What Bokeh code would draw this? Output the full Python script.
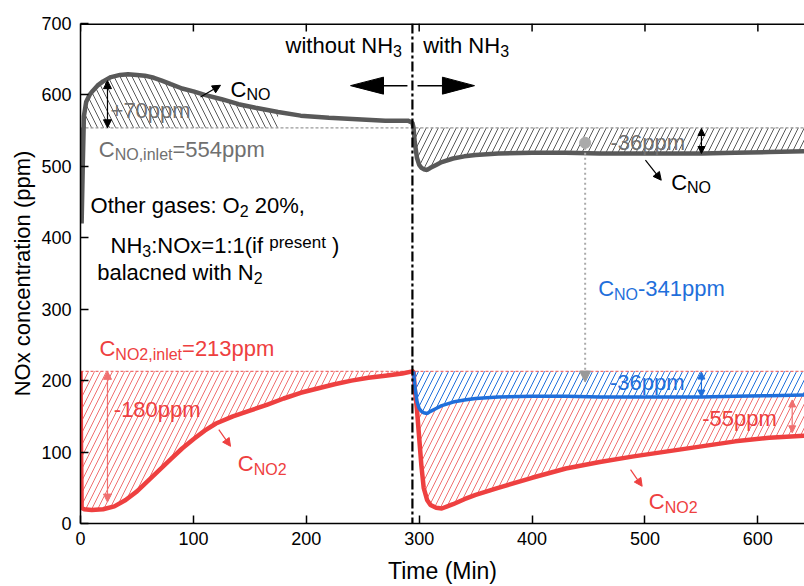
import numpy as np
from bokeh.plotting import figure
from bokeh.models import Range1d, FixedTicker, Span, Arrow, NormalHead
from bokeh.core.properties import value
from bokeh.embed import file_html
from bokeh.resources import INLINE

FONT = "Liberation Sans"

# ---------------- data ----------------
x_ticks = [0, 100, 200, 300, 400, 500, 600]
y_ticks = [0, 100, 200, 300, 400, 500, 600, 700]

no_inlet = 554      # ppm
no2_inlet = 213     # ppm
nh3_switch = 294    # min
no_shift = 341      # ppm (C_NO - 341)
gray_hatch_end = 175

# period 1 (without NH3)
t_no_1 = [0, 1, 2, 3, 5, 8, 11, 15, 20, 27, 35, 42, 50, 57, 65, 72, 80, 90, 100, 110,
          125, 140, 155, 175, 195, 220, 245, 270, 290, 294]
no_1 = [554, 420, 500, 570, 590, 600, 606, 613, 619, 625, 628, 629, 628, 627, 624, 620, 615, 609, 605, 600,
        594, 587, 582, 576, 571, 568, 566, 564, 564, 561]
t_no2_1 = [0, 0.5, 1, 3, 10, 20, 30, 40, 50, 60, 70, 80, 90, 100, 110, 120, 135, 150, 165, 180,
           195, 210, 225, 240, 255, 270, 285, 294]
no2_1 = [213, 100, 22, 20, 19, 20, 24, 33, 45, 60, 75, 90, 105, 118, 130, 140, 150, 158, 166, 175,
         183, 189, 195, 200, 204, 207, 210, 213]

# period 2 (with NH3)
t_2 = [295, 296, 298, 300, 302, 304, 307, 310, 315, 320, 330, 340, 350, 370, 400, 430, 460, 490,
       520, 550, 580, 610, 641]
no_2 = [554, 535, 512, 502, 498, 496, 495, 498, 502, 506, 511, 514, 516, 518, 519, 519, 518, 518,
        518, 518, 519, 520, 521]
no2_2 = [213, 190, 160, 120, 80, 50, 33, 26, 22, 21, 27, 34, 40, 50, 64, 77, 86, 94,
         101, 108, 115, 120, 123]

# ---------------- styles ----------------
GRAY = "#595959"
GRAY_T = "#707070"
RED = "#EE4040"
RED_L = "#F07070"
BLUE = "#1F6FDB"

XMAX = 641.3
p = figure(width=804, height=586, x_range=Range1d(0, XMAX), y_range=Range1d(0, 700),
           output_backend="svg", toolbar_location=None,
           min_border_left=80, min_border_right=0, min_border_top=23, min_border_bottom=62)
p.outline_line_color = None
p.xgrid.visible = False
p.ygrid.visible = False
p.background_fill_color = "white"

PX = 724.0 / XMAX
PY = 501.0 / 700.0
TEXT_UP = 7.0   # px

for ax in (p.xaxis[0], p.yaxis[0]):
    ax.major_tick_in = 8
    ax.major_tick_out = 0
    ax.minor_tick_line_color = None
    ax.major_label_text_font = FONT
    ax.major_label_text_font_size = "18px"
    ax.major_label_text_color = "black"
    ax.axis_label_text_font = FONT
    ax.axis_label_text_font_style = "normal"
    ax.axis_label_text_color = "black"
    ax.axis_line_width = 1.5
    ax.major_tick_line_width = 1.5
p.xaxis[0].ticker = FixedTicker(ticks=x_ticks)
p.yaxis[0].ticker = FixedTicker(ticks=y_ticks)
p.xaxis[0].axis_label = "Time (Min)"
p.yaxis[0].axis_label = "NOx concentration (ppm)"
p.xaxis[0].axis_label_text_font_size = "23px"
p.yaxis[0].axis_label_text_font_size = "22px"
p.xaxis[0].major_label_standoff = 8
p.xaxis[0].axis_label_standoff = 10
p.yaxis[0].major_label_standoff = 9
p.yaxis[0].axis_label_standoff = 3

# top frame line with inward ticks (no labels)
p.add_layout(Span(location=700, dimension="width", line_color="black", line_width=3))
p.segment(x0=x_ticks, y0=[700] * len(x_ticks), x1=x_ticks, y1=[700 - 8 / PY] * len(x_ticks),
          line_color="black", line_width=1.5)

# ---------------- hatched areas ----------------
t1 = np.array(t_no_1, dtype=float)
n1 = np.array(no_1, dtype=float)
m = t1 <= gray_hatch_end
p.varea(x=t1[m], y1=np.full(m.sum(), no_inlet), y2=np.maximum(n1[m], no_inlet),
        fill_color=None, hatch_pattern="\\", hatch_color=GRAY, hatch_weight=1, hatch_scale=12)

t21 = np.array(t_no2_1, dtype=float)
r1 = np.array(no2_1, dtype=float)
p.varea(x=t21, y1=r1, y2=np.full(len(t21), no2_inlet),
        fill_color=None, hatch_pattern="/", hatch_color=RED_L, hatch_weight=1, hatch_scale=12)

t2 = np.array(t_2, dtype=float)
n2 = np.array(no_2, dtype=float)
r2 = np.array(no2_2, dtype=float)
b2 = n2 - no_shift
p.varea(x=t2, y1=n2, y2=np.full(len(t2), no_inlet),
        fill_color=None, hatch_pattern="/", hatch_color=GRAY, hatch_weight=1, hatch_scale=12)
p.varea(x=t2, y1=b2, y2=np.full(len(t2), no2_inlet),
        fill_color=None, hatch_pattern="/", hatch_color=BLUE, hatch_weight=1, hatch_scale=12)
p.varea(x=t2, y1=r2, y2=b2,
        fill_color=None, hatch_pattern="/", hatch_color=RED_L, hatch_weight=1, hatch_scale=12)

# reference (inlet) lines
p.line([0, XMAX], [no_inlet, no_inlet], line_color="#9a9a9a", line_dash="3 2", line_width=1.2)
p.line([0, XMAX], [no2_inlet, no2_inlet], line_color=RED_L, line_dash="3 2", line_width=1.2)

# ---------------- curves ----------------
p.line(np.concatenate([t1, t2]), np.concatenate([n1, n2]), line_color=GRAY, line_width=4.5)
p.line(np.concatenate([t21, t2]), np.concatenate([r1, r2]), line_color=RED, line_width=4.5)
p.line(t2, b2, line_color=BLUE, line_width=3.5)

# switch line
p.add_layout(Span(location=nh3_switch, dimension="height", line_color="black",
                  line_width=2.2, line_dash="10 3 3 3"))

# ---------------- text helpers ----------------
W = {' ': 278, '%': 889, '(': 333, ')': 333, '+': 584, ',': 278, '-': 333, '.': 278, ':': 278,
     '=': 584, 'C': 722, 'H': 722, 'M': 833, 'N': 722, 'O': 778, 'T': 611, 'x': 500, 'a': 556,
     'b': 556, 'c': 500, 'd': 556, 'e': 556, 'g': 556, 'h': 556, 'i': 222, 'l': 222, 'm': 833,
     'n': 556, 'o': 556, 'p': 556, 'r': 333, 's': 500, 't': 278, 'u': 556, 'w': 722, 'f': 278}


def tw(s, fs):
    return sum(W.get(c, 556) for c in s) * fs / 1000.0


def rich(x, y, parts, color, size=22):
    off = 0.0
    for s, kind in parts:
        if kind == "sub":
            fs, dy = 16, -5.5
        elif kind == "small":
            fs, dy = 17, 3
        else:
            fs, dy = size, 0
        lead = len(s) - len(s.lstrip(" "))
        off += tw(" " * lead, fs)
        s = s.lstrip(" ")
        p.text(x=[x], y=[y + (dy + TEXT_UP) / PY], text=[s], x_offset=off, text_font=value(FONT),
               text_font_size=f"{fs}px", text_color=color, text_baseline="alphabetic",
               text_align="left")
        off += tw(s, fs)


def arrow(x0, y0, x1, y1, color, both=False, size=8, width=1.2):
    hd = dict(size=size, fill_color=color, line_color=color, line_width=1)
    p.add_layout(Arrow(x_start=x0, y_start=y0, x_end=x1, y_end=y1,
                       start=NormalHead(**hd) if both else None, end=NormalHead(**hd),
                       line_color=color, line_width=width))


# period labels
rich(181.6, 659.5, [("without NH", "n"), ("3", "sub")], "black")
rich(303.5, 659.5, [("with NH", "n"), ("3", "sub")], "black")

# big arrows
p.patch([239.2, 268.4, 268.4], [613, 613 + 11.9, 613 - 11.9], color="black")
p.line([268.4, 289.6], [613, 613], line_color="black", line_width=1.5)
p.patch([349.0, 320.6, 320.6], [613, 613 + 11.9, 613 - 11.9], color="black")
p.line([298.5, 320.6], [613, 613], line_color="black", line_width=1.5)

# period 1 NO annotations
rich(26.6, 568.7, [("+70ppm", "n")], GRAY_T)
arrow(23.9, 620, 23.9, 554, "black", both=True)
rich(16.2, 514.2, [("C", "n"), ("NO,inlet", "sub"), ("=554ppm", "n")], GRAY_T)
arrow(106.3, 597.1, 124.0, 613.5, "black", size=8)
rich(132.9, 598.0, [("C", "n"), ("NO", "sub")], "black")

# gas info
rich(8.9, 435.9, [("Other gases: O", "n"), ("2", "sub"), (" 20%,", "n")], "black")
rich(26.6, 380.0, [("NH", "n"), ("3", "sub"), (":NOx=1:1(if ", "n"), ("present", "small"), (" )", "n")], "black")
rich(14.8, 342.3, [("balacned with N", "n"), ("2", "sub")], "black")

# period 1 NO2 annotations
rich(16.8, 234.7, [("C", "n"), ("NO2,inlet", "sub"), ("=213ppm", "n")], RED)
rich(29.5, 149.5, [("-180ppm", "n")], RED)
arrow(23.9, 213, 23.9, 30, RED_L, both=True)
arrow(122.5, 131.3, 132.9, 108.0, RED, size=8)
rich(139.3, 74.0, [("C", "n"), ("NO2", "sub")], RED)

# period 2 annotations
p.add_layout(Arrow(x_start=447, y_start=533, x_end=447, y_end=198, line_color="#aaaaaa",
                   line_width=2, line_dash="2 3",
                   end=NormalHead(size=11, fill_color="#999999", line_color="#999999")))
p.scatter([447], [533], size=11, color="#aaaaaa")
rich(469.4, 524.0, [("-36ppm", "n")], GRAY_T)
arrow(550, 553, 550, 518, "black", both=True, size=7)
arrow(500.4, 508.6, 514.4, 480.6, "black", size=8)
rich(523.2, 468.1, [("C", "n"), ("NO", "sub")], "black")

rich(458.5, 318.6, [("C", "n"), ("NO", "sub"), ("-341ppm", "n")], BLUE)
rich(469.0, 187.2, [("-36ppm", "n")], BLUE)
arrow(550, 212, 550, 177, BLUE, both=True, size=7)

rich(550.7, 136.9, [("-55ppm", "n")], RED)
arrow(630.4, 173, 630.4, 127, RED_L, both=True, size=7)
arrow(487.2, 75.4, 497.5, 52.1, RED, size=8)
rich(503.4, 21.0, [("C", "n"), ("NO2", "sub")], RED)

open("out.html", "w").write(file_html(p, INLINE))
